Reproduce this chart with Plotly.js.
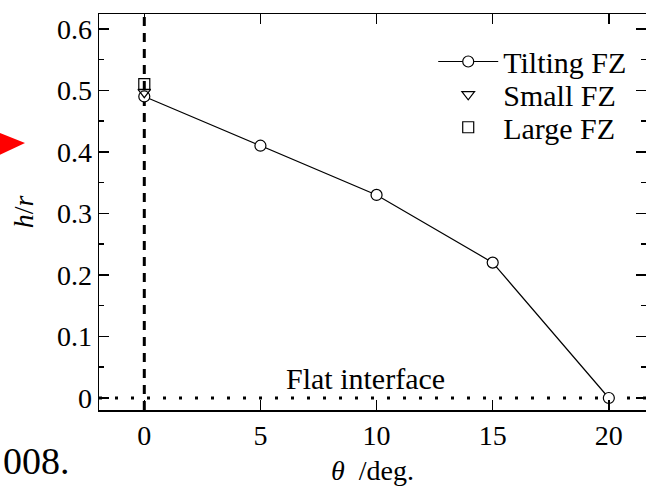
<!DOCTYPE html>
<html>
<head>
<meta charset="utf-8">
<script src="https://cdn.plot.ly/plotly-3.0.1.min.js"></script>
<style>html,body{margin:0;padding:0;background:#fff;}#chart{width:646px;height:488px;}</style>
</head>
<body>
<div id="chart"></div>
<script>
// Data
const tiltAngles = [0, 5, 10, 15, 20];
const tiltHR = [0.49, 0.41, 0.33, 0.22, 0.0];
const smallAngles = [0];
const smallHR = [0.497];
const largeAngles = [0];
const largeHR = [0.51];
const yTickVals = [0, 0.1, 0.2, 0.3, 0.4, 0.5, 0.6];
const xTickVals = [0, 5, 10, 15, 20];

const FONT = 'Liberation Serif, DejaVu Serif, serif';

const traces = [
  {x: tiltAngles, y: tiltHR, name: 'Tilting FZ', type: 'scatter', mode: 'lines+markers',
   line: {color: '#000', width: 1.2},
   marker: {symbol: 'circle', size: 11, color: '#fff', line: {color: '#000', width: 1.2}},
   legend: 'legend'},
  {x: smallAngles, y: smallHR, name: 'Small FZ', type: 'scatter', mode: 'markers',
   marker: {symbol: 'triangle-down', size: 11, color: 'rgba(0,0,0,0)', line: {color: '#000', width: 1.2}},
   legend: 'legend2'},
  {x: largeAngles, y: largeHR, name: 'Large FZ', type: 'scatter', mode: 'markers',
   marker: {symbol: 'square', size: 11, color: 'rgba(0,0,0,0)', line: {color: '#000', width: 1.2}},
   legend: 'legend3'}
];

const legendBase = {xanchor: 'left', yanchor: 'middle', bgcolor: 'rgba(0,0,0,0)', borderwidth: 0,
  font: {family: FONT, size: 30, color: '#000'}, itemwidth: 60};

const layout = {
  width: 646, height: 488,
  margin: {l: 99, r: 0, t: 14, b: 78},
  paper_bgcolor: '#fff', plot_bgcolor: '#fff',
  font: {family: FONT, color: '#000'},
  showlegend: true,
  legend: Object.assign({}, legendBase, {x: 0.611, y: 0.88}),
  legend2: Object.assign({}, legendBase, {x: 0.611, y: 0.797}),
  legend3: Object.assign({}, legendBase, {x: 0.611, y: 0.714}),
  xaxis: {
    range: [-1.95, 21.6], tickvals: xTickVals, ticktext: xTickVals.map(String),
    ticks: 'inside', ticklen: 10, tickwidth: 1.5, tickcolor: '#000',
    showline: true, linecolor: '#000', linewidth: 1.5, mirror: 'ticks',
    showgrid: false, zeroline: false,
    tickfont: {family: FONT, size: 28, color: '#000'},
    title: {text: '<i>θ</i>  /deg.', font: {family: FONT, size: 28, color: '#000'}, standoff: 10}
  },
  yaxis: {
    range: [-0.0195, 0.624], tickvals: yTickVals, ticktext: yTickVals.map(String),
    ticks: 'inside', ticklen: 10, tickwidth: 1.5, tickcolor: '#000',
    minor: {dtick: 0.05, tick0: 0, ticks: 'inside', ticklen: 5, tickwidth: 1.5, tickcolor: '#000'},
    showline: true, linecolor: '#000', linewidth: 1.5, mirror: 'ticks',
    showgrid: false, zeroline: false,
    tickfont: {family: FONT, size: 28, color: '#000'},
    title: {text: '<i>h</i>/<i>r</i>', font: {family: FONT, size: 28, color: '#000'}, standoff: 15}
  },
  shapes: [
    {type: 'line', xref: 'x', yref: 'paper', x0: 0, x1: 0, y0: 0, y1: 1,
     line: {color: '#000', width: 3, dash: '9px,7px'}, layer: 'below'},
    {type: 'line', xref: 'paper', yref: 'y', x0: 0, x1: 1, y0: 0, y1: 0,
     line: {color: '#000', width: 3, dash: '3px,13px'}, layer: 'below'},
    {type: 'path', xref: 'paper', yref: 'paper',
     path: 'M -0.19 0.7045 L -0.1353 0.6742 L -0.19 0.6389 Z',
     fillcolor: '#ff0000', line: {width: 0}}
  ],
  annotations: [
    {text: 'Flat interface', xref: 'x', yref: 'y', x: 9.53, y: 0.0325, showarrow: false,
     xanchor: 'center', yanchor: 'middle', font: {family: FONT, size: 30, color: '#000'}},
    {text: '008.', xref: 'paper', yref: 'paper', x: -0.179, y: -0.13, showarrow: false,
     xanchor: 'left', yanchor: 'middle', font: {family: FONT, size: 38, color: '#000'}}
  ]
};

Plotly.newPlot('chart', traces, layout, {displayModeBar: false, staticPlot: true});
</script>
</body>
</html>
